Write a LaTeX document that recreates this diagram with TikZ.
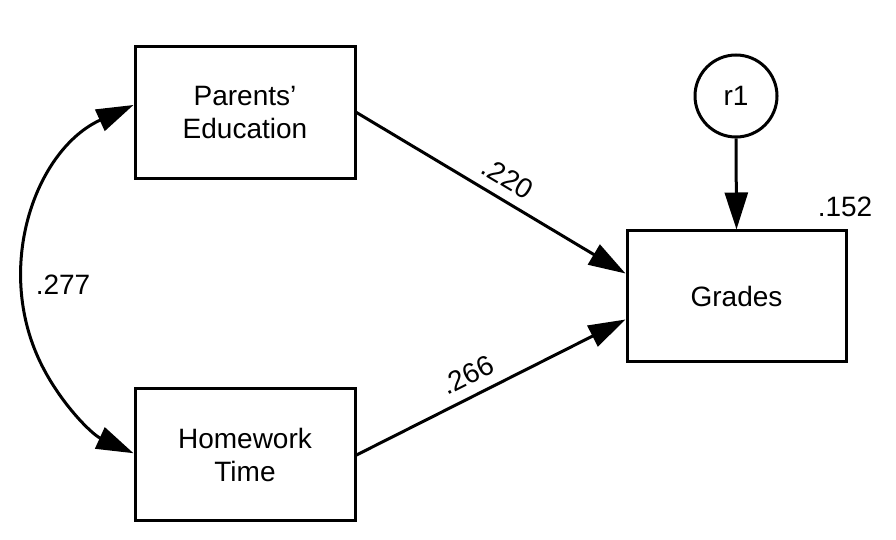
\documentclass[tikz,border=0pt]{standalone}
\usepackage{fontspec}
\setmainfont{Liberation Sans}
\usetikzlibrary{arrows.meta,calc}
\begin{document}
\begin{tikzpicture}[x=1pt,y=1pt,
  box/.style={draw, line width=3pt, minimum width=220pt, minimum height=132pt, align=center, inner sep=0pt, font=\fontsize{28}{33}\selectfont},
  circ/.style={draw, circle, line width=3pt, minimum size=82pt, inner sep=0pt, font=\fontsize{28}{33}\selectfont},
  lab/.style={font=\fontsize{28}{33}\selectfont, inner sep=2pt},
  path/.style={line width=3pt, -{Triangle[length=37pt,width=23pt]}}]
\useasboundingbox (0,0) rectangle (896,540);
\node[box] (pe) at (245,427.5) {Parents'\\Education};
\node[box] (hw) at (245,85) {Homework\\Time};
\node[box, minimum width=219pt, minimum height=131pt] (gr) at (736.5,243.5) {Grades};
\node[circ] (r1) at (736,444) {r1};
\draw[path] (pe.east) -- node[lab, sloped, above=8pt, pos=0.52] {.220} ($(gr.west)+(0,23)$);
\draw[path] (hw.east) -- node[lab, sloped, above=8pt, pos=0.45] {.266} ($(gr.west)+(0,-23)$);
\draw[path] (r1.south) -- (gr.north);
\draw[line width=3pt, {Triangle[length=37pt,width=23pt]}-{Triangle[length=37pt,width=23pt]}] ($(pe.west)+(0,7.5)$) arc[start angle=114.4, end angle=245.6, radius=191.2];
\node[lab] (c) at (63,255) {.277};
\node[lab] (rsq) at (845,333) {.152};
\end{tikzpicture}
\end{document}
